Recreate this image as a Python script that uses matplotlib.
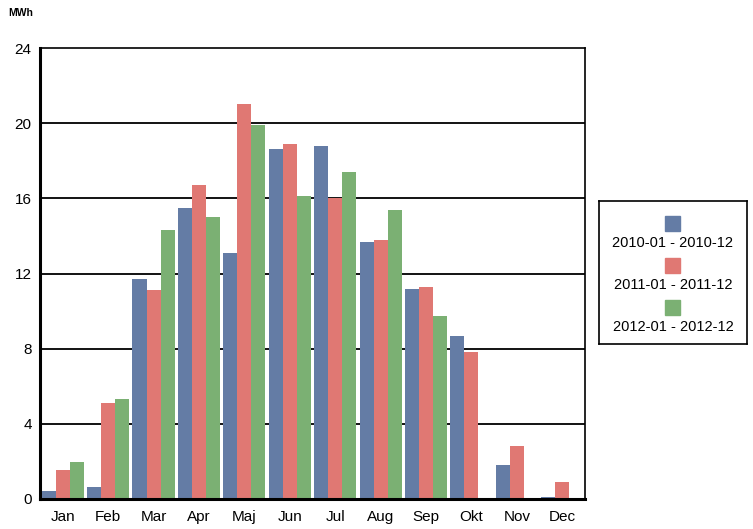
import numpy as np
import matplotlib.pyplot as plt
from matplotlib.patches import Rectangle

plt.rcParams['font.family'] = ['Liberation Sans', 'DejaVu Sans']

months = ["Jan", "Feb", "Mar", "Apr", "Maj", "Jun", "Jul", "Aug", "Sep", "Okt", "Nov", "Dec"]
series_names = ["2010-01 - 2010-12", "2011-01 - 2011-12", "2012-01 - 2012-12"]
y2010 = [0.45, 0.65, 11.7, 15.5, 13.1, 18.6, 18.8, 13.7, 11.2, 8.7, 1.8, 0.1]
y2011 = [1.55, 5.1, 11.1, 16.7, 21.0, 18.9, 16.0, 13.8, 11.3, 7.8, 2.8, 0.9]
y2012 = [1.97, 5.3, 14.3, 15.0, 19.9, 16.1, 17.4, 15.4, 9.75, 0.0, 0.0, 0.0]
colors = ["#647ca5", "#e07873", "#7bb073"]
yticks = [0, 4, 8, 12, 16, 20, 24]

fig = plt.figure(figsize=(7.53, 5.29), dpi=100)
ax = fig.add_axes([40/753, 1-499/529, 545/753, 451/529])

x = np.arange(len(months))
w = 0.31
for i, (vals, c) in enumerate(zip([y2010, y2011, y2012], colors)):
    ax.bar(x + (i-1)*w, vals, width=w, color=c, zorder=3)

ax.set_xlim(-0.5, 11.5)
ax.set_ylim(0, 24)
ax.set_yticks(yticks)
ax.set_xticks(x)
ax.set_xticklabels(months)
for t in yticks[1:-1]:
    ax.axhline(t, color='black', lw=1.3, zorder=2)
ax.tick_params(length=0, labelsize=11, colors='black')
ax.tick_params(axis='x', pad=8)
ax.tick_params(axis='y', pad=6)
for s in ['left', 'bottom']:
    ax.spines[s].set_linewidth(2.2)
for s in ['top', 'right']:
    ax.spines[s].set_linewidth(1.2)
ax.spines['bottom'].set_zorder(4)

fig.text(8/753, 1-13/529, "MWh", fontsize=7.5, fontweight='bold', va='center', ha='left')

# legend box: handles above labels
lax = fig.add_axes([599/753, 1-344/529, 148/753, 143/529])
lax.set_xlim(0, 148)
lax.set_ylim(143, 0)
lax.set_xticks([])
lax.set_yticks([])
for s in lax.spines.values():
    s.set_linewidth(1.2)
for i, (name, c) in enumerate(zip(series_names, colors)):
    yy = 15 + i * 42
    lax.add_patch(Rectangle((66, yy), 15, 15, color=c))
    lax.text(74, yy + 27, name, ha='center', va='center', fontsize=10.5)

fig.savefig("out.png", dpi=100)
